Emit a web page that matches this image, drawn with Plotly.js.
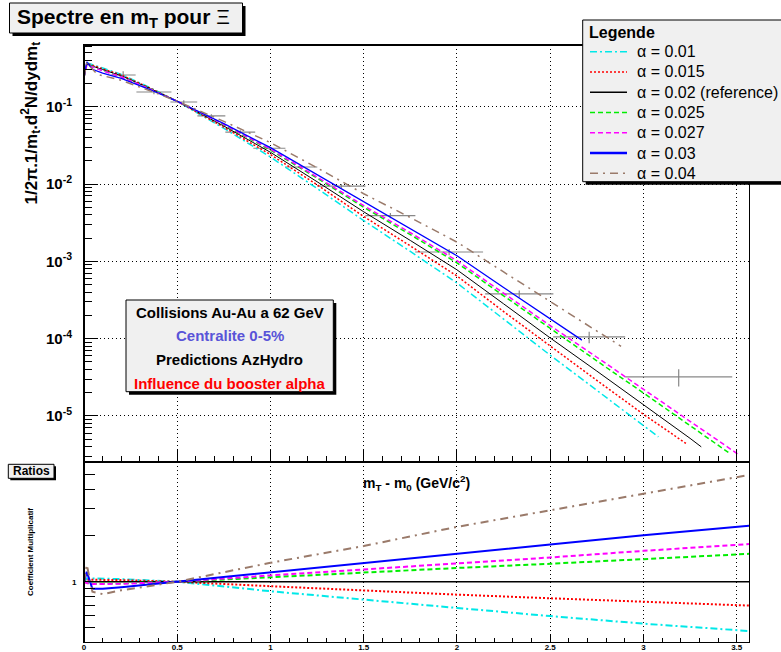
<!DOCTYPE html>
<html>
<head>
<meta charset="utf-8">
<script src="https://cdn.plot.ly/plotly-3.0.1.min.js"></script>
<style>
  html, body { margin: 0; padding: 0; background: #ffffff; }
  #chart { width: 781px; height: 652px; }
</style>
</head>
<body>
<div id="chart"></div>
<script>
// ---- Hydro predictions: spectra for each booster value alpha ----
const alphaLabels = ['α = 0.01', 'α = 0.015', 'α = 0.02 (reference)', 'α = 0.025', 'α = 0.027', 'α = 0.03', 'α = 0.04'];

const specX_a010 = [0, 0.015, 0.1, 0.2, 0.35, 0.5, 0.75, 1.0, 1.25, 1.5, 1.75, 2.0, 2.25, 2.5, 2.75, 3.0, 3.08];
const specY_a010 = [0.240, 0.372, 0.316, 0.262, 0.178, 0.1175, 0.0525, 0.0223, 8.75e-3, 3.36e-3, 1.34e-3, 5.24e-4, 1.79e-4, 6.10e-5, 2.14e-5, 7.53e-6, 5.37e-6];

const specX_a015 = [0, 0.015, 0.1, 0.2, 0.35, 0.5, 0.75, 1.0, 1.25, 1.5, 1.75, 2.0, 2.25, 2.5, 2.75, 3.0, 3.23];
const specY_a015 = [0.240, 0.363, 0.309, 0.257, 0.176, 0.1175, 0.0543, 0.0240, 9.77e-3, 3.80e-3, 1.58e-3, 6.46e-4, 2.24e-4, 7.94e-5, 2.88e-5, 1.05e-5, 4.37e-6];

const specX_a020 = [0, 0.015, 0.1, 0.2, 0.35, 0.5, 0.75, 1.0, 1.25, 1.5, 1.75, 2.0, 2.25, 2.5, 2.75, 3.0, 3.25, 3.31];
const specY_a020 = [0.240, 0.355, 0.302, 0.251, 0.174, 0.1175, 0.0562, 0.0257, 0.0107, 4.37e-3, 1.86e-3, 7.76e-4, 2.82e-4, 1.02e-4, 3.80e-5, 1.41e-5, 5.13e-6, 3.98e-6];

const specX_a025 = [0, 0.015, 0.1, 0.2, 0.35, 0.5, 0.75, 1.0, 1.25, 1.5, 1.75, 2.0, 2.25, 2.5, 2.75, 3.0, 3.25, 3.46];
const specY_a025 = [0.240, 0.351, 0.294, 0.245, 0.172, 0.1175, 0.0582, 0.0275, 0.0119, 5.01e-3, 2.21e-3, 9.55e-4, 3.58e-4, 1.34e-4, 5.15e-5, 1.98e-5, 7.45e-6, 3.31e-6];

const specX_a027 = [0, 0.015, 0.1, 0.2, 0.35, 0.5, 0.75, 1.0, 1.25, 1.5, 1.75, 2.0, 2.25, 2.5, 2.75, 3.0, 3.25, 3.51];
const specY_a027 = [0.240, 0.348, 0.292, 0.244, 0.171, 0.1175, 0.0589, 0.0282, 0.0123, 5.25e-3, 2.34e-3, 1.02e-3, 3.87e-4, 1.47e-4, 5.74e-5, 2.24e-5, 8.51e-6, 3.16e-6];

const specX_a030 = [0, 0.015, 0.045, 0.1, 0.2, 0.35, 0.5, 0.75, 1.0, 1.25, 1.5, 1.75, 2.0, 2.25, 2.5, 2.67];
const specY_a030 = [0.240, 0.380, 0.305, 0.272, 0.232, 0.168, 0.1175, 0.0603, 0.0295, 0.0132, 5.77e-3, 2.64e-3, 1.18e-3, 4.59e-4, 1.79e-4, 9.55e-5];

const specX_a040 = [0, 0.015, 0.07, 0.2, 0.35, 0.5, 0.75, 1.0, 1.25, 1.5, 1.75, 2.0, 2.25, 2.5, 2.75, 2.88];
const specY_a040 = [0.240, 0.370, 0.263, 0.219, 0.162, 0.1175, 0.0646, 0.0343, 0.0162, 7.48e-3, 3.68e-3, 1.77e-3, 7.28e-4, 3.00e-4, 1.26e-4, 7.94e-5];

// ---- Measured Xi spectrum (bin centre, half bin width, yield, error) ----
const dataX    = [0.21, 0.375, 0.535, 0.683, 0.838, 0.994, 1.165, 1.38, 1.643, 1.958, 2.334, 2.709, 3.189];
const dataXErr = [0.067, 0.094, 0.072, 0.075, 0.08, 0.086, 0.086, 0.129, 0.134, 0.182, 0.183, 0.193, 0.287];
const dataY    = [0.257, 0.155, 0.115, 0.076, 0.047, 0.029, 0.0166, 0.0094, 0.0039, 0.00132, 3.8e-4, 1.05e-4, 3.2e-5];
const dataYErr = [0.03, 0.01, 0.006, 0.004, 0.0025, 0.0015, 0.001, 0.0006, 0.0003, 0.00012, 4e-5, 1.8e-5, 8e-6];

// ---- Ratios to the reference alpha = 0.02 ----
const ratioX      = [0, 0.015, 0.045, 0.1, 0.2, 0.35, 0.5, 1.0, 1.5, 2.0, 2.5, 3.0, 3.566];
const ratio_a010  = [1.0, 1.05, 1.05, 1.05, 1.04, 1.02, 1.0, 0.867, 0.769, 0.675, 0.597, 0.533, 0.477];
const ratio_a015  = [1.0, 1.03, 1.03, 1.03, 1.025, 1.012, 1.0, 0.935, 0.875, 0.824, 0.78, 0.743, 0.699];
const ratio_a020  = [1, 1, 1, 1, 1, 1, 1, 1, 1, 1, 1, 1, 1];
const ratio_a025  = [1.0, 0.985, 0.97, 0.97, 0.975, 0.988, 1.0, 1.07, 1.15, 1.23, 1.31, 1.40, 1.52];
const ratio_a027  = [1.0, 0.98, 0.965, 0.965, 0.97, 0.985, 1.0, 1.10, 1.20, 1.31, 1.44, 1.59, 1.76];
const ratio_a030  = [1.0, 1.16, 0.90, 0.90, 0.92, 0.96, 1.0, 1.15, 1.32, 1.52, 1.75, 2.01, 2.32];
const ratio_a040  = [1.0, 1.29, 0.86, 0.83, 0.88, 0.94, 1.0, 1.33, 1.71, 2.28, 2.93, 3.77, 4.97];

// tick labels
const specTickVals = [1e-5, 1e-4, 1e-3, 1e-2, 1e-1];
const specTickText = ['10<sup>-5</sup>', '10<sup>-4</sup>', '10<sup>-3</sup>', '10<sup>-2</sup>', '10<sup>-1</sup>'];
const mtTickVals = [0, 0.5, 1, 1.5, 2, 2.5, 3, 3.5];
const mtTickText = ['0', '0.5', '1', '1.5', '2', '2.5', '3', '3.5'];

// ---- styles ----
const FONT = 'Liberation Sans, Arial, Helvetica, sans-serif';
const styles = [
  { color: '#00e8e8', dash: '7px,3px,2px,3px', w: 1.5, lw: 1.5 },
  { color: '#ff0000', dash: '2px,2px', w: 1.5, lw: 1.5 },
  { color: '#000000', dash: 'solid', w: 1, lw: 1.5 },
  { color: '#00ee00', dash: '5px,3px', w: 1.5, lw: 1.5 },
  { color: '#ff00ff', dash: '5px,3px', w: 1.5, lw: 1.5 },
  { color: '#0000ff', dash: 'solid', w: 1.3, lw: 2.5 },
  { color: '#9a7a6a', dash: '8px,5px,2px,5px', w: 1.5, lw: 1.5 }
];
const specXs = [specX_a010, specX_a015, specX_a020, specX_a025, specX_a027, specX_a030, specX_a040];
const specYs = [specY_a010, specY_a015, specY_a020, specY_a025, specY_a027, specY_a030, specY_a040];
const ratios = [ratio_a010, ratio_a015, ratio_a020, ratio_a025, ratio_a027, ratio_a030, ratio_a040];

const traces = [];
// data points with bin widths
traces.push({
  x: dataX, y: dataY, xaxis: 'x', yaxis: 'y', mode: 'markers', showlegend: false,
  marker: { size: 1, color: '#888888' },
  error_x: { type: 'data', array: dataXErr, color: '#888888', thickness: 1.2, width: 0 },
  error_y: { type: 'data', array: dataYErr, color: '#888888', thickness: 1.2, width: 0 },
  hoverinfo: 'skip'
});
for (let i = 0; i < 7; i++) {
  traces.push({
    x: specXs[i], y: specYs[i], xaxis: 'x', yaxis: 'y', mode: 'lines', name: alphaLabels[i],
    showlegend: false,
    line: { color: styles[i].color, dash: styles[i].dash, width: styles[i].w }
  });
}
for (let i = 0; i < 7; i++) {
  traces.push({
    x: ratioX, y: ratios[i], xaxis: 'x2', yaxis: 'y2', mode: 'lines', showlegend: false,
    line: { color: styles[i].color, dash: styles[i].dash, width: i === 2 ? 1.5 : 2 }
  });
}

// ---- page geometry (pixels) ----
const PAGE_W = 781, PAGE_H = 652;
const M = { l: 84, r: 32, t: 45, b: 10 };
const PW = PAGE_W - M.l - M.r, PH = PAGE_H - M.t - M.b;
const fx = px => (px - M.l) / PW;
const fy = py => (PAGE_H - M.b - py) / PH;
const split = fy(462.3);

// minor tick positions for the log axes
const specMinor = [];
for (let e = -6; e <= 0; e++) for (let d = 2; d <= 9; d++) specMinor.push(d * Math.pow(10, e));
const ratioMinor = [0.5, 0.6, 0.7, 0.8, 0.9, 2, 3, 4, 5, 6];

const GRID = { showgrid: true, gridcolor: '#000000', gridwidth: 1, griddash: '1px,3px' };

function box(x0, y0, x1, y1, shadow) {
  const out = [];
  if (shadow) out.push({ type: 'rect', xref: 'paper', yref: 'paper',
    x0: fx(x0 + shadow), x1: fx(x1 + shadow), y0: fy(y1 + shadow), y1: fy(y0 + shadow),
    fillcolor: '#000000', line: { width: 0 } });
  out.push({ type: 'rect', xref: 'paper', yref: 'paper',
    x0: fx(x0), x1: fx(x1), y0: fy(y1), y1: fy(y0),
    fillcolor: '#f0f0f0', line: { color: '#000000', width: 1 } });
  return out;
}
function note(text, px, py, size, opts) {
  return Object.assign({ text: text, xref: 'paper', yref: 'paper', x: fx(px), y: fy(py),
    showarrow: false, xanchor: 'center', yanchor: 'middle',
    font: { family: FONT, size: size, color: '#000000' } }, opts || {});
}

// heavier left and top frame edges first, then the boxes drawn over them
const shapes = [].concat(
  [
    { type: 'line', xref: 'paper', yref: 'paper', x0: 0, x1: 0, y0: 0, y1: 1,
      line: { color: '#000000', width: 2 } },
    { type: 'line', xref: 'paper', yref: 'paper', x0: 0, x1: 1, y0: 1, y1: 1,
      line: { color: '#000000', width: 2 } }
  ],
  box(9.5, 3, 242.5, 33, 3),
  box(582.7, 20, 790, 181.7, 3),
  box(126, 300, 333.3, 391.7, 3),
  box(8.3, 464.3, 54, 478.3, 2)
);

const annotations = [
  note('<b>Spectre en m<sub>T</sub> pour </b>Ξ', 15, 18, 21, { xanchor: 'left' }),
  note('<b>1/2π.1/m<sub>t</sub>.d<sup>2</sup>N/dydm<sub>t</sub></b>', 31, 40, 17, { textangle: -90, yanchor: 'top' }),
  note('<b>Collisions Au-Au a 62 GeV</b>', 229.7, 312.3, 15),
  note('<b>Centralite 0-5%</b>', 229.7, 335.7, 15, { font: { family: FONT, size: 15, color: '#5954d8' } }),
  note('<b>Predictions AzHydro</b>', 229.7, 359.5, 15),
  note('<b>Influence du booster alpha</b>', 229.7, 383.3, 15, { font: { family: FONT, size: 15, color: '#ff0000' } }),
  note('<b>Ratios</b>', 31.2, 471.3, 12),
  note('<b>Coefficient Multiplicatif</b>', 30, 552, 8, { textangle: -90 }),
  note('<b>m<sub>T</sub> - m<sub>0</sub> (GeV/c<sup>2</sup>)</b>', 416, 483, 14),
  note('<b>Legende</b>', 587, 33, 16, { xanchor: 'left' })
];

// legend key: one line sample and label per alpha value
for (let i = 0; i < 7; i++) {
  const rowY = 51.7 + i * 20.27;
  shapes.push({ type: 'line', xref: 'paper', yref: 'paper',
    x0: fx(590), x1: fx(627), y0: fy(rowY), y1: fy(rowY),
    line: { color: styles[i].color, dash: styles[i].dash, width: styles[i].lw } });
  annotations.push(note(alphaLabels[i], 635, rowY, 16, { xanchor: 'left' }));
}

const layout = {
  width: PAGE_W, height: PAGE_H,
  margin: Object.assign({ pad: 0, autoexpand: false }, M),
  paper_bgcolor: '#ffffff', plot_bgcolor: '#ffffff',
  font: { family: FONT, color: '#000000' },
  showlegend: false,
  xaxis: Object.assign({
    domain: [0, 1], anchor: 'y', range: [0, 3.566], tickvals: mtTickVals,
    ticks: 'inside', ticklen: 12, tickwidth: 1, tickcolor: '#000000', showticklabels: false,
    minor: { dtick: 0.1, tick0: 0, ticks: 'inside', ticklen: 6, tickwidth: 1, tickcolor: '#000000', showgrid: false },
    showline: true, mirror: true, linecolor: '#000000', linewidth: 1, zeroline: false, automargin: false
  }, GRID),
  yaxis: Object.assign({
    domain: [split, 1], anchor: 'x', type: 'log', range: [-5.60, -0.202],
    tickvals: specTickVals, ticktext: specTickText,
    ticks: 'inside', ticklen: 14, tickwidth: 1, tickcolor: '#000000',
    tickfont: { family: FONT, size: 15, weight: 700, color: '#000000' }, ticklabelstandoff: 8,
    minor: { tickvals: specMinor, ticks: 'inside', ticklen: 8, tickwidth: 1, tickcolor: '#000000', showgrid: false },
    showline: true, mirror: true, linecolor: '#000000', linewidth: 1, zeroline: false, automargin: false
  }, GRID),
  xaxis2: Object.assign({
    domain: [0, 1], anchor: 'y2', range: [0, 3.566], tickvals: mtTickVals, ticktext: mtTickText,
    ticks: 'inside', ticklen: 8, tickwidth: 1, tickcolor: '#000000',
    tickfont: { family: FONT, size: 8, weight: 700, color: '#000000' }, ticklabelstandoff: -3,
    minor: { dtick: 0.1, tick0: 0, ticks: 'inside', ticklen: 4, tickwidth: 1, tickcolor: '#000000', showgrid: false },
    showline: true, mirror: true, linecolor: '#000000', linewidth: 1, zeroline: false, automargin: false
  }, GRID),
  yaxis2: {
    domain: [0, split], anchor: 'x2', type: 'log', range: [-0.393, 0.779],
    tickvals: [1], ticktext: ['1'],
    ticks: 'inside', ticklen: 11, tickwidth: 1, tickcolor: '#000000',
    tickfont: { family: FONT, size: 8, weight: 700, color: '#000000' }, ticklabelstandoff: 5,
    minor: { tickvals: ratioMinor, ticks: 'inside', ticklen: 11, tickwidth: 1, tickcolor: '#000000', showgrid: false },
    showgrid: false, showline: true, mirror: true, linecolor: '#000000', linewidth: 1, zeroline: false, automargin: false
  },
  shapes: shapes,
  annotations: annotations
};

Plotly.newPlot('chart', traces, layout, { staticPlot: true, displayModeBar: false });
</script>
</body>
</html>
